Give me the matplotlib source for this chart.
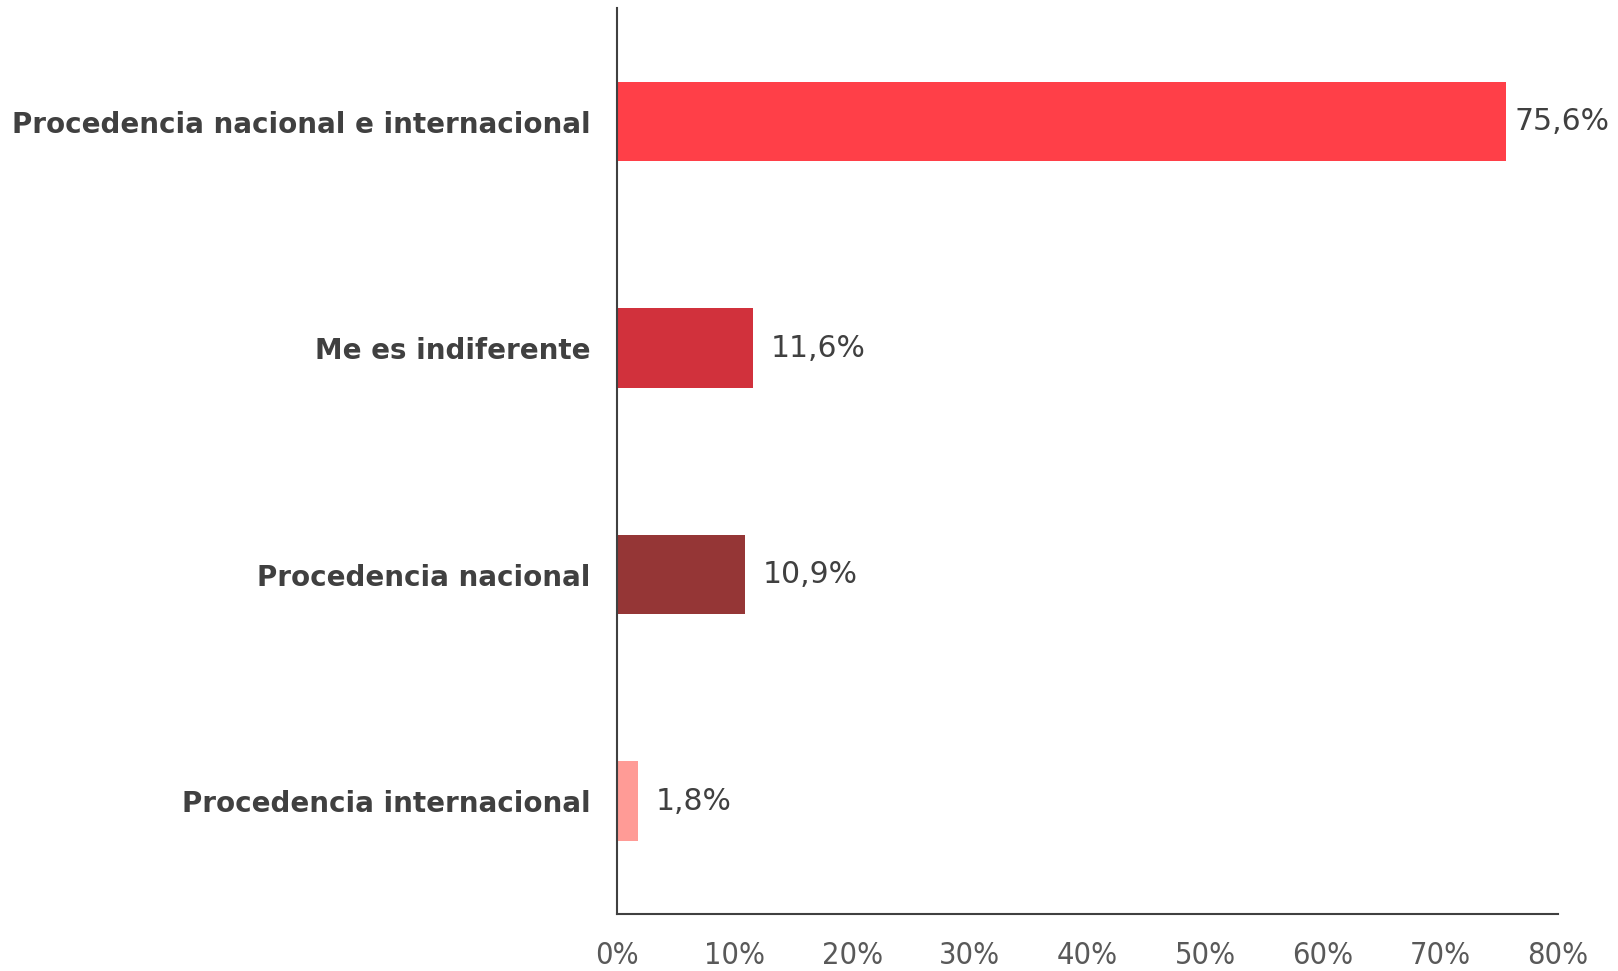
import matplotlib
matplotlib.use("Agg")
import matplotlib.pyplot as plt
from matplotlib.ticker import FuncFormatter

categories = [
    "Procedencia nacional e internacional",
    "Me es indiferente",
    "Procedencia nacional",
    "Procedencia internacional",
]
values = [75.6, 11.6, 10.9, 1.8]
colors = ["#FF3F48", "#D1313C", "#953636", "#FF9B96"]
x_ticks = [0, 10, 20, 30, 40, 50, 60, 70, 80]

plt.rcParams["font.family"] = ["DejaVu Sans"]

fig = plt.figure(figsize=(16.18, 9.71), dpi=100)
ax = fig.add_axes([0.3813, 0.0584, 0.963 - 0.3813, 0.9915 - 0.0584])

ypos = list(range(len(categories)))
ax.barh(ypos, values, height=0.35, color=colors)

for y, v in zip(ypos, values):
    pad = 6 if v > 70 else 12.5
    ax.annotate(
        f"{v:.1f}%".replace(".", ","),
        xy=(v, y),
        xytext=(pad, 0),
        textcoords="offset points",
        ha="left",
        va="center",
        fontsize=21.5,
        color="#404040",
    )

ax.set_xlim(0, 80)
ax.set_ylim(3.5, -0.5)
ax.set_xticks(x_ticks)
ax.xaxis.set_major_formatter(FuncFormatter(lambda x, _: f"{x:.0f}%"))
ax.set_yticks(ypos)
ax.set_yticklabels(categories, fontsize=20, fontweight="bold", color="#404040")

for lab in ax.get_xticklabels():
    lab.set_fontsize(22)
    lab.set_color("#595959")
    lab.set_fontstretch("condensed")

ax.tick_params(axis="x", length=0, pad=19)
ax.tick_params(axis="y", length=0, pad=19)

ax.spines["top"].set_visible(False)
ax.spines["right"].set_visible(False)
for side in ("left", "bottom"):
    ax.spines[side].set_color("#404040")
    ax.spines[side].set_linewidth(1.5)

fig.savefig("out.png", dpi=100, facecolor="white")
plt.close(fig)
